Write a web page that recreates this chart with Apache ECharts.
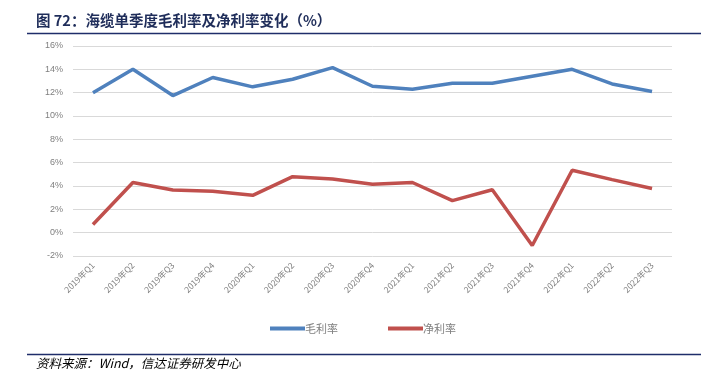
<!DOCTYPE html>
<html>
<head>
<meta charset="utf-8">
<script src="https://cdn.jsdelivr.net/npm/echarts@6/dist/echarts.min.js"></script>
<style>
html,body{margin:0;padding:0;background:#fff;}
#c{width:728px;height:387px;}
</style>
</head>
<body>
<div id="c"></div>
<script>
const categories = ['2019年Q1','2019年Q2','2019年Q3','2019年Q4','2020年Q1','2020年Q2','2020年Q3','2020年Q4','2021年Q1','2021年Q2','2021年Q3','2021年Q4','2022年Q1','2022年Q2','2022年Q3'];
const grossMargin = [12.0, 14.0, 11.75, 13.3, 12.5, 13.15, 14.15, 12.55, 12.3, 12.8, 12.8, 13.4, 14.0, 12.75, 12.1];
const netMargin = [0.7, 4.3, 3.65, 3.55, 3.2, 4.8, 4.6, 4.15, 4.3, 2.75, 3.68, -1.1, 5.35, 4.55, 3.78];
const seriesNames = ['毛利率', '净利率'];
const titleText = '图 72：海缆单季度毛利率及净利率变化（%）';
const sourceText = '资料来源：Wind，信达证券研发中心';

const chart = echarts.init(document.getElementById('c'));
const fontCJK = '"Noto Sans CJK SC", "Noto Sans", sans-serif';
chart.setOption({
  animation: false,
  backgroundColor: '#fff',
  grid: { left: 73, right: 56, top: 46, bottom: 131, containLabel: false },
  legend: {
    bottom: 48,
    left: 265,
    itemWidth: 35,
    itemHeight: 4,
    itemGap: 50,
    icon: 'rect',
    textStyle: { color: '#7f7f7f', fontSize: 11, fontFamily: fontCJK, padding: [0,0,0,-5] },
    data: seriesNames
  },
  xAxis: {
    type: 'category',
    data: categories,
    boundaryGap: true,
    axisLine: { show: false },
    axisTick: { show: false },
    axisLabel: { rotate: 45, color: '#7f7f7f', fontSize: 8.5, margin: 8, fontFamily: fontCJK, interval: 0 }
  },
  yAxis: {
    type: 'value',
    min: -2, max: 16, interval: 2,
    axisLine: { show: false },
    axisTick: { show: false },
    splitLine: { lineStyle: { color: '#d9d9d9', width: 1 } },
    axisLabel: { color: '#7f7f7f', fontSize: 9, formatter: '{value}%', margin: 10, fontFamily: 'Liberation Sans, sans-serif' }
  },
  series: [
    { name: seriesNames[0], type: 'line', data: grossMargin, symbol: 'none', lineStyle: { color: '#4f81bd', width: 3.5 }, itemStyle: { color: '#4f81bd' } },
    { name: seriesNames[1], type: 'line', data: netMargin, symbol: 'none', lineStyle: { color: '#c0504d', width: 3.5 }, itemStyle: { color: '#c0504d' } }
  ],
  graphic: [
    { type: 'text', left: 36, top: 13, style: { text: titleText, font: 'bold 14.5px "Noto Sans CJK SC", sans-serif', fill: '#1f2d5a' } },
    { type: 'line', shape: { x1: 27, y1: 33.5, x2: 701, y2: 33.5 }, style: { stroke: '#1f2d6a', lineWidth: 1.5 } },
    { type: 'line', shape: { x1: 27, y1: 354.5, x2: 701, y2: 354.5 }, style: { stroke: '#1f2d6a', lineWidth: 1.5 } },
    { type: 'text', left: 36, top: 357, style: { text: sourceText, font: 'italic 12.5px "Noto Sans CJK SC", sans-serif', fill: '#000' } }
  ]
});
</script>
</body>
</html>
